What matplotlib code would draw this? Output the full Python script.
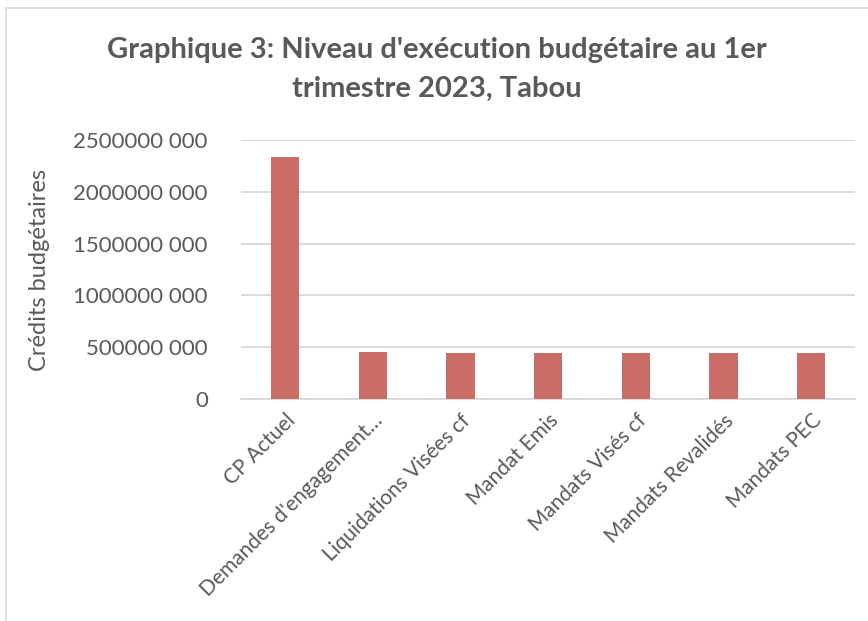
import matplotlib.pyplot as plt
from matplotlib.patches import Rectangle
from matplotlib.ticker import FuncFormatter

categories = ["CP Actuel", "Demandes d'engagement…", "Liquidations Visées cf",
              "Mandat Emis", "Mandats Visés cf", "Mandats Revalidés", "Mandats PEC"]
values = [2335000000, 460000000, 445000000, 445000000, 445000000, 445000000, 445000000]
yticks = [0, 500000000, 1000000000, 1500000000, 2000000000, 2500000000]

TXT = "#595959"
plt.rcParams['font.family'] = ['Lato', 'DejaVu Sans']

def fmt(v, pos):
    if v == 0:
        return "0"
    s = f"{int(v):d}"
    return s[:-3] + " " + s[-3:]

fig = plt.figure(figsize=(8.68, 6.21), dpi=100)
ax = fig.add_axes([0.278, 0.357, 0.707, 0.418])

ax.bar(range(len(categories)), values, width=0.32, color="#c96b67", zorder=3)
ax.set_xlim(-0.5, len(categories) - 0.5)
ax.set_ylim(0, 2500000000)
ax.set_yticks(yticks)
ax.yaxis.set_major_formatter(FuncFormatter(fmt))
ax.grid(axis="y", color="#d9d9d9", linewidth=1.3, zorder=0)
for s in ["top", "right", "left"]:
    ax.spines[s].set_visible(False)
ax.spines["bottom"].set_color("#d9d9d9")
ax.spines["bottom"].set_linewidth(1.3)
ax.tick_params(axis="y", length=0, labelsize=16, colors=TXT, pad=24)
ax.tick_params(axis="x", length=0, labelsize=15, colors=TXT, pad=8)
ax.set_xticks(range(len(categories)))
ax.set_xticklabels(categories, rotation=45, ha="right", rotation_mode="anchor")
ax.set_ylabel("Crédits budgétaires", fontsize=17, color=TXT, labelpad=17)

fig.suptitle("Graphique 3: Niveau d'exécution budgétaire au 1er\ntrimestre 2023, Tabou",
             x=0.503, y=0.94, fontsize=21, fontweight="bold", color=TXT, linespacing=1.6)

fig.patches.append(Rectangle((0.007, -0.1), 1.2, 1.087, transform=fig.transFigure,
                             fill=False, edgecolor="#d9d9d9", linewidth=1.2))

fig.savefig("out.png", dpi=100)
